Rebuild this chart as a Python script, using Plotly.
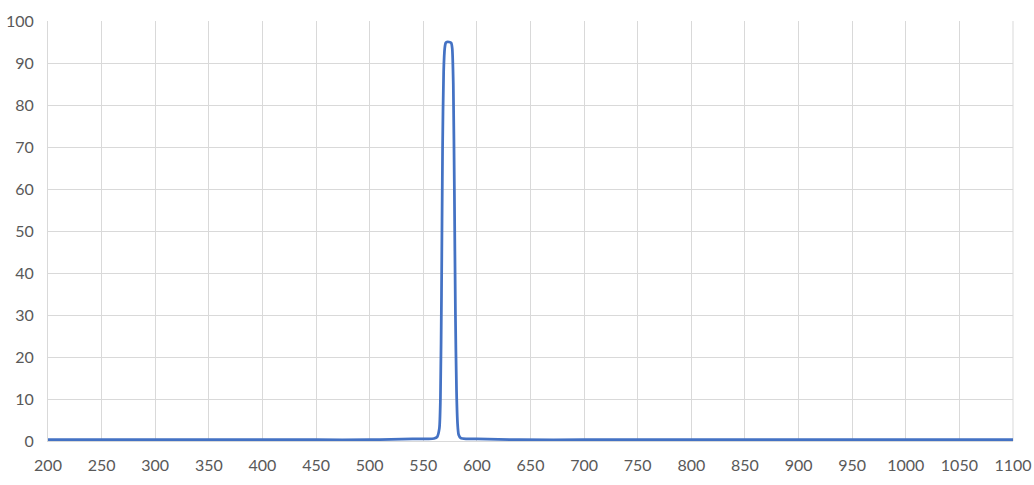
import plotly.graph_objects as go

# wavelength (nm) and transmission (%)
wavelength = [200, 250, 300, 350, 400, 450, 500, 520, 540, 555, 560, 563, 565,
              566, 567, 568, 569, 570, 571, 572, 574, 576, 577, 578, 579, 580,
              581, 582, 583, 585, 590, 600, 620, 640, 700, 800, 900, 1000, 1100]
transmission = [0.3, 0.3, 0.3, 0.3, 0.3, 0.3, 0.3, 0.4, 0.5, 0.5, 0.6, 1.0, 3.0,
                10.0, 35.0, 70.0, 88.0, 93.5, 94.8, 95.0, 95.0, 94.8, 93.5, 85.0, 60.0, 30.0,
                12.0, 4.0, 1.5, 0.7, 0.5, 0.5, 0.4, 0.3, 0.3, 0.3, 0.3, 0.3, 0.3]

x_ticks = list(range(200, 1101, 50))
y_ticks = list(range(0, 101, 10))

grid_col = '#D9D9D9'
label_col = '#595959'

fig = go.Figure()
fig.add_trace(go.Scatter(x=wavelength, y=transmission, mode='lines',
                         line=dict(color='#4472C4', width=2.75, shape='spline', smoothing=0.6),
                         hoverinfo='x+y', showlegend=False))

fig.update_layout(
    width=1034, height=485,
    margin=dict(l=48, r=21, t=21, b=44),
    paper_bgcolor='white', plot_bgcolor='white',
    font=dict(family='Lato, Open Sans, sans-serif', size=16, color=label_col),
)
fig.update_xaxes(range=[200, 1100], tickvals=x_ticks, showgrid=True, gridcolor=grid_col,
                 gridwidth=1, showline=True, linecolor=grid_col, linewidth=1, zeroline=False,
                 ticks='', mirror=False, ticklabelstandoff=10, automargin=False)
fig.update_yaxes(range=[0, 100], tickvals=y_ticks, showgrid=True, gridcolor=grid_col,
                 gridwidth=1, showline=True, linecolor=grid_col, zeroline=False, ticks='',
                 ticklabelstandoff=10, automargin=False)
# right border of the plot area
fig.add_shape(type='line', xref='paper', yref='paper', x0=1, x1=1, y0=0, y1=1,
              line=dict(color=grid_col, width=1), layer='below')

# drop the browser's default 8px body margin so the figure fills the window
fig.write_html("out.html", config={'displayModeBar': False},
               post_script="document.body.style.margin = '0';")
